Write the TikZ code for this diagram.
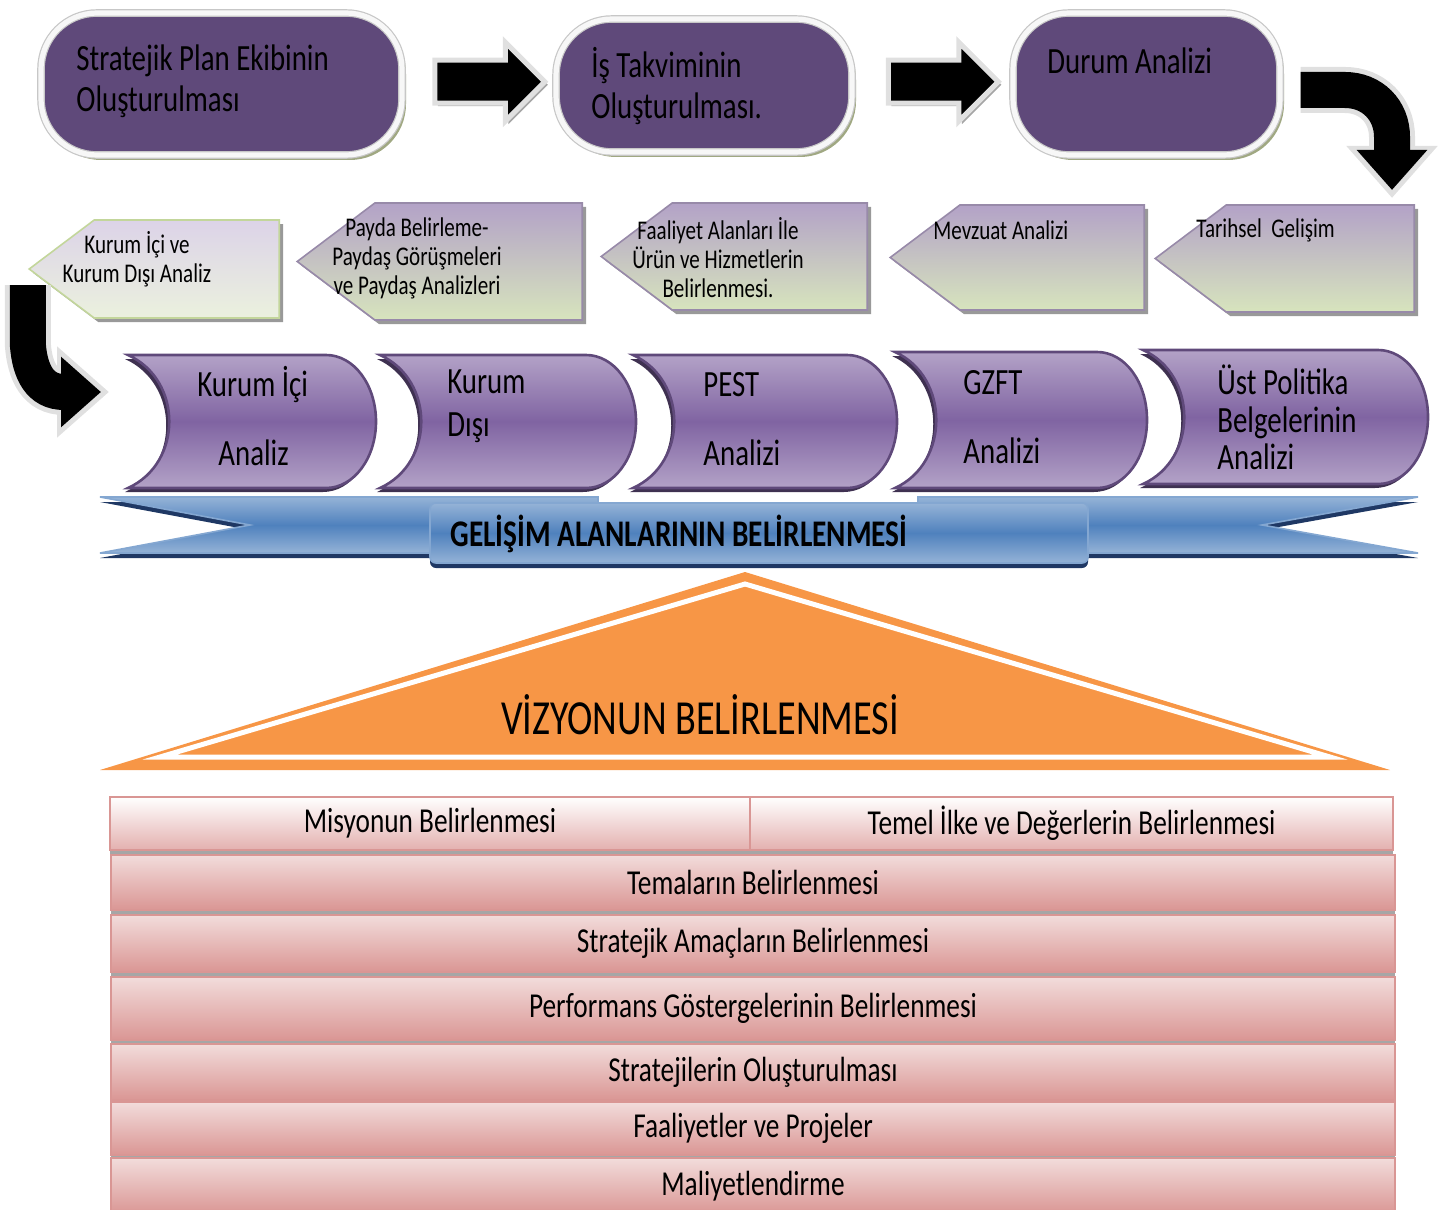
\documentclass[tikz,border=0pt]{standalone}
\usepackage{fontspec}
\setmainfont{Carlito}[FakeStretch=0.78]
\usetikzlibrary{positioning,calc,shapes.arrows,shapes.symbols,shadows,arrows.meta}

\definecolor{planpurple}{HTML}{5F497A}
\definecolor{pillshadow}{RGB}{160,168,130}
\definecolor{tabpurple}{HTML}{B3A2C7}
\definecolor{tabgreen}{HTML}{D7E4BD}
\definecolor{paleedge}{HTML}{C3D69B}
\definecolor{palelilac}{HTML}{DCD3E8}
\definecolor{palegreen}{HTML}{EBF1DE}
\definecolor{scrolllight}{HTML}{B3A2C7}
\definecolor{scrolldark}{HTML}{8064A2}
\definecolor{scrollshadow}{HTML}{3F3151}
\definecolor{ribbonlight}{HTML}{95B3D7}
\definecolor{ribbonmid}{HTML}{4F81BD}
\definecolor{ribbonshadow}{HTML}{1F3864}
\definecolor{vizorange}{HTML}{F79646}
\definecolor{barline}{HTML}{D99694}
\definecolor{barlight}{HTML}{F2DCDB}
\definecolor{bardark}{HTML}{DA9694}

\tikzset{
  pill/.style={rectangle, rounded corners=28pt, fill=planpurple, draw=black!22, double=black!3,
    double distance=2.6pt, line width=0.6pt,
    drop shadow={shadow xshift=2pt, shadow yshift=-2.5pt, fill=pillshadow, opacity=1}},
  pilltext/.style={font=\fontsize{18.5}{20.5}\selectfont, align=left, inner sep=0pt},
  blockarrow/.style={single arrow, fill=black, draw=black!12, line width=2.5pt, inner sep=9.5pt,
    single arrow head extend=9pt, minimum height=55pt,
    drop shadow={shadow xshift=1.5pt, shadow yshift=-1.5pt, fill=black!35, opacity=1}},
  bendback/.style={line width=23pt, draw=black!12, -{Triangle[width=44pt,length=26pt]}, shorten >=-4pt},
  bendfront/.style={line width=18pt, draw=black, -{Triangle[width=34pt,length=20pt]}},
  tab/.style={signal, signal to=west, signal pointer angle=74, inner sep=0pt, anchor=east,
    top color=tabpurple, bottom color=tabgreen, draw=tabpurple!85!black, line width=0.8pt,
    drop shadow={shadow xshift=2pt, shadow yshift=-2pt, fill=black!40, opacity=1}},
  tabtext/.style={font=\fontsize{13.5}{14.5}\selectfont, align=center, inner sep=0pt},
  scroll/.style={top color=scrolllight, bottom color=scrolllight, middle color=scrolldark,
    draw=planpurple, line width=1.3pt,
    drop shadow={shadow xshift=-1.5pt, shadow yshift=-2pt, fill=scrollshadow, opacity=1}},
  ribbon/.style={top color=ribbonlight, bottom color=ribbonlight, middle color=ribbonmid,
    draw=ribbonmid!70!white, line width=0.8pt,
    drop shadow={shadow xshift=0pt, shadow yshift=-2.5pt, fill=ribbonshadow, opacity=1}},
  bar/.style={rectangle, minimum width=642pt, inner sep=0pt, draw=barline, line width=1.2pt,
    top color=barlight, bottom color=bardark, font=\fontsize{17.5}{20}\selectfont,
    drop shadow={shadow xshift=0pt, shadow yshift=-2pt, fill=black!35, opacity=1}},
  barwhite/.style={bar, top color=white, bottom color=bardark!75!white}
}

\begin{document}
\begin{tikzpicture}[x=0.5pt,y=-0.5pt]
\useasboundingbox (0,0) rectangle (1438,1209);

% first row
\node[pill, minimum width=180.5pt, minimum height=71pt] (plan) at (221.5,84) {};
\node[pill, minimum width=148pt, minimum height=66.5pt] (takvim) at (704,85.5) {};
\node[pill, minimum width=133.5pt, minimum height=71pt] (durum) at (1146.5,84) {};
\node[pilltext, anchor=west] (plantxt) at (76,81.5) {Stratejik Plan Ekibinin\\Oluşturulması};
\node[pilltext, anchor=west] (takvimtxt) at (591,86.5) {İş Takviminin\\Oluşturulması.};
\node[pilltext, anchor=west] (durumtxt) at (1047,61) {Durum Analizi};

\node[blockarrow] (ok1) at ($(plan.east)!0.5!(takvim.west)+(0,-3)$) {};
\node[blockarrow] (ok2) at ($(takvim.east)!0.5!(durum.west)+(0,-3)$) {};

% second row
\node[tab, minimum width=125pt, minimum height=49pt, top color=palelilac, bottom color=palegreen,
  draw=paleedge] (icdis) at (280,269) {};
\node[tab, minimum width=142.5pt, minimum height=58.5pt] (payda) at (583,261.5) {};
\node[tab, minimum width=133pt, minimum height=53.5pt] (faal) at (868,256.5) {};
\node[tab, minimum width=127pt, minimum height=52.5pt] (mevzuat) at (1145,257.5) {};
\node[tab, minimum width=129.5pt, minimum height=53.5pt] (tarih) at (1415,258.5) {};
\node[tabtext] (icdistxt) at (137,259.5) {Kurum İçi ve\\Kurum Dışı Analiz};
\node[tabtext] (paydatxt) at (417,258) {Payda Belirleme-\\Paydaş Görüşmeleri\\ve Paydaş Analizleri};
\node[tabtext] (faaltxt) at (718,258) {Faaliyet Alanları İle\\Ürün ve Hizmetlerin\\Belirlenmesi.};
\node[tabtext, anchor=west] (mevzuattxt) at (933,230) {Mevzuat Analizi};
\node[tabtext, anchor=west] (tarihtxt) at (1196,230) {Tarihsel~ Gelişim};

% bends
\coordinate (donus1) at (1392,190);
\coordinate (donus2) at (101,392);
\foreach \st in {bendback,bendfront}{
  \draw[\st] ([xshift=10pt,yshift=-3pt]durum.east) -- (1345,90)
    .. controls (1372,90) and (1392,110) .. (1392,137) -- (donus1);
  \draw[\st] ([yshift=-8pt]icdis.west) -- ++(0,60)
    .. controls (30,372) and (40,392) .. (64,392) -- (donus2);
}

% third row
\foreach \xa/\xb/\ya/\yb in {128/376/355/488,380/636/355/488,633/897/355/488,895/1147/352/488,1143/1428/350/484}
  \draw[scroll] (\xa,\ya) -- ({\xb-50},\ya) .. controls ({\xb-22},\ya) and (\xb,{\ya+30}) .. (\xb,{(\ya+\yb)/2})
    .. controls (\xb,{\yb-30}) and ({\xb-22},\yb) .. ({\xb-50},\yb) -- (\xa,\yb)
    .. controls ({\xa+55},{\yb-25}) and ({\xa+55},{\ya+25}) .. (\xa,\ya) -- cycle;
\node[pilltext, anchor=west] (ic1) at (197,385) {Kurum İçi};
\node[pilltext, anchor=west] (ic2) at (218,453) {Analiz};
\node[pilltext, anchor=west] (dis) at (447,406.5) {Kurum\\[1pt]Dışı};
\node[pilltext, anchor=west] (pest1) at (703,385) {PEST};
\node[pilltext, anchor=west] (pest2) at (703,453) {Analizi};
\node[pilltext, anchor=west] (gzft1) at (963,383) {GZFT};
\node[pilltext, anchor=west] (gzft2) at (963,451) {Analizi};
\node[pilltext, anchor=west, font=\fontsize{18.5}{18.75}\selectfont] (ust) at (1217,417.5) {Üst Politika\\Belgelerinin\\Analizi};

% ribbon
\path[ribbon] (100,497) -- (598,497) -- (598,553) -- (100,553) -- (250,525) -- cycle;
\path[ribbon] (918,497) -- (1418,497) -- (1262,525) -- (1418,553) -- (918,553) -- cycle;
\path[ribbon, rounded corners=3pt] (430,503) rectangle (1088,563);
\node[font=\bfseries\fontsize{18.8}{20}\selectfont, anchor=west, inner sep=0pt] (gelisim) at (450,534) {GELİŞİM ALANLARININ BELİRLENMESİ};

% vision
\fill[vizorange] (745,572) -- (1390,770) -- (100,770) -- cycle;
\draw[white, line width=2.5pt] (745,584) -- (1330,757) -- (160,757) -- cycle;
\node[font=\fontsize{24.5}{28}\selectfont] (vizyon) at (700,715) {VİZYONUN BELİRLENMESİ};

% layers
\node[barwhite, minimum width=320pt, minimum height=26.5pt] (misyon) at (430,823.5) {Misyonun Belirlenmesi};
\node[barwhite, minimum width=321.5pt, minimum height=26.5pt] (ilke) at (1071.5,823.5) {Temel İlke ve Değerlerin Belirlenmesi};
\foreach \y/\h/\t [count=\i] in {882.5/27.5/Temaların Belirlenmesi,943.5/28.5/Stratejik Amaçların Belirlenmesi,1008.5/31.5/Performans Göstergelerinin Belirlenmesi,1072/28/Stratejilerin Oluşturulması,1128.5/26.5/Faaliyetler ve Projeler,1186/28/Maliyetlendirme}
  \node[bar, minimum height=\h pt] (katman\i) at (753,\y) {\t};
\end{tikzpicture}
\end{document}
